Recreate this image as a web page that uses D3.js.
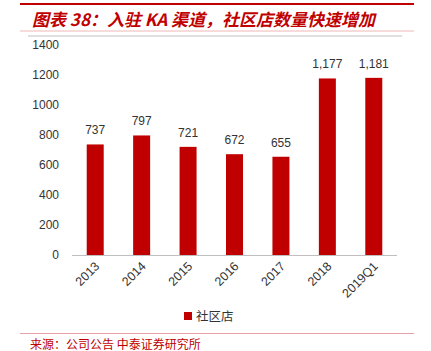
<!DOCTYPE html>
<html><head><meta charset="utf-8">
<script src="https://cdn.jsdelivr.net/npm/d3@7"></script>
<style>body{margin:0;background:#fff;}svg{display:block;}</style>
</head><body>
<script>
const categories = ["2013","2014","2015","2016","2017","2018","2019Q1"];
const values = [737,797,721,672,655,1177,1181];
const yTicks = [0,200,400,600,800,1000,1200,1400];
const seriesName = "社区店";
const title = "图表 38：入驻 KA 渠道，社区店数量快速增加";
const source = "来源：公司公告 中泰证券研究所";

const W=431,H=351;
const svg=d3.select("body").append("svg").attr("width",W).attr("height",H);
const red="#c00000";
// header
svg.append("line").attr("x1",20).attr("x2",414).attr("y1",4).attr("y2",4).attr("stroke",red).attr("stroke-width",2);
svg.append("text").attr("x",32).attr("y",26).attr("fill",red)
  .attr("font-family","'Noto Sans CJK SC'").attr("font-size",17).attr("font-weight","bold").attr("font-style","italic")
  .text(title);
svg.append("line").attr("x1",20).attr("x2",414).attr("y1",31).attr("y2",31).attr("stroke","#f0b8b8").attr("stroke-width",1);
svg.append("line").attr("x1",28).attr("x2",402).attr("y1",36).attr("y2",36).attr("stroke","#c0c0c0").attr("stroke-width",1);

const x=d3.scaleBand().domain(categories).range([72,397]).paddingInner(0.634).paddingOuter(0.317);
const y=d3.scaleLinear().domain([0,1400]).range([255,45]);

// y axis labels
const ya=svg.append("g").attr("transform","translate(59,0)")
  .call(d3.axisLeft(y).tickValues(yTicks).tickSize(0).tickPadding(0).tickFormat(d3.format("d")));
ya.select(".domain").remove();
ya.selectAll("text").attr("font-family","'Liberation Sans'").attr("font-size",12).attr("fill","#333");

// bars
svg.selectAll("rect.bar").data(values).join("rect").attr("class","bar")
  .attr("x",(d,i)=>x(categories[i])).attr("width",x.bandwidth())
  .attr("y",d=>y(d)).attr("height",d=>y(0)-y(d)).attr("fill",red);

// x axis line
svg.append("line").attr("x1",72).attr("x2",397).attr("y1",255.5).attr("y2",255.5).attr("stroke","#bfbfbf");

// value labels
svg.selectAll("text.val").data(values).join("text").attr("class","val")
  .attr("x",(d,i)=>x(categories[i])+x.bandwidth()/2).attr("y",d=>y(d)-10)
  .attr("text-anchor","middle").attr("font-family","'Liberation Sans'").attr("font-size",12).attr("fill","#333")
  .text(d=>d3.format(",")(d));

// x labels
svg.selectAll("text.xl").data(categories).join("text").attr("class","xl")
  .attr("transform",d=>`translate(${x(d)+x.bandwidth()/2+5},${267}) rotate(-45)`)
  .attr("text-anchor","end").attr("font-family","'Liberation Sans'").attr("font-size",12.5).attr("fill","#333")
  .text(d=>d);

// legend
svg.append("rect").attr("x",184).attr("y",312).attr("width",8).attr("height",8).attr("fill",red);
svg.append("text").attr("x",196).attr("y",321).attr("font-family","'Noto Sans CJK SC'").attr("font-size",12.5).attr("fill","#333").text(seriesName);

// footer
svg.append("line").attr("x1",20).attr("x2",414).attr("y1",333.5).attr("y2",333.5).attr("stroke","#e8a0a8").attr("stroke-width",1);
svg.append("text").attr("x",30).attr("y",349).attr("fill",red).attr("font-family","'Noto Sans CJK SC'").attr("font-size",12).text(source);
</script>
</body></html>
